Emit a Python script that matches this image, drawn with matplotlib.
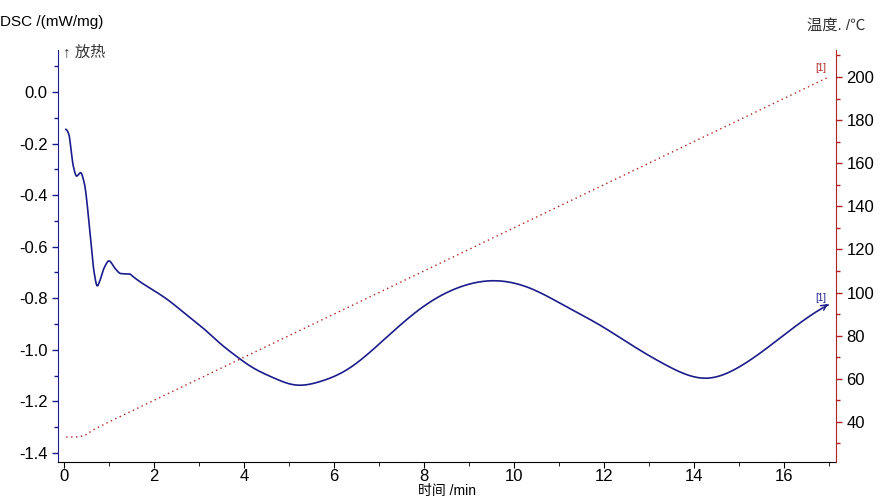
import numpy as np
import matplotlib.pyplot as plt
from matplotlib.ticker import MultipleLocator

plt.rcParams['font.family'] = ['Liberation Sans', 'Noto Sans CJK SC', 'DejaVu Sans']

# DSC signal
t_dsc = [0.04, 0.1, 0.21, 0.28, 0.37, 0.45, 0.58, 0.67, 0.74, 0.8, 0.89, 1.0, 1.13, 1.26,
         1.47, 1.69, 1.98, 2.36, 2.73, 3.1, 3.47, 3.84, 4.13, 4.65, 5.13, 5.69, 6.28,
         7.02, 7.5, 7.98, 8.73, 9.58, 10.36, 11.17, 11.91, 12.65, 13.39, 14.28, 15.02,
         15.76, 16.5, 16.98]
dsc = [-0.145, -0.16, -0.29, -0.326, -0.313, -0.353, -0.547, -0.70, -0.752, -0.73,
       -0.683, -0.655, -0.683, -0.704, -0.706, -0.736, -0.768, -0.813, -0.865, -0.917,
       -0.975, -1.026, -1.062, -1.108, -1.136, -1.123, -1.078, -0.975, -0.90, -0.833,
       -0.761, -0.732, -0.761, -0.833, -0.904, -0.985, -1.06, -1.11, -1.065, -0.975,
       -0.878, -0.826]

# temperature trace
t_temp = [0.05, 0.25, 0.45, 0.65, 1.0, 2.0, 4.0, 6.0, 8.0, 10.0, 12.0, 14.0, 16.0, 17.0]
temp = [33.0, 33.0, 33.5, 36.3, 40.0, 50.0, 70.0, 90.0, 110.0, 130.0, 150.0, 170.0, 190.0, 200.0]

blue = '#1c1c8c'
red = '#b22222'

fig = plt.figure(figsize=(8.94, 4.98), dpi=100)
ax = fig.add_axes([0.0649, 0.0723, 0.8703, 0.8273])
ax2 = ax.twinx()

# pchip for the sharp start, cubic spline for the slow wave after it
t_arr = np.array(t_dsc)
d_arr = np.array(dsc)
split = 14  # index of t=1.47
try:
    from scipy.interpolate import PchipInterpolator, CubicSpline
    t1 = np.linspace(t_arr[0], t_arr[split], 200)
    y1 = PchipInterpolator(t_arr[:split + 1], d_arr[:split + 1])(t1)
    t2 = np.linspace(t_arr[split], t_arr[-1], 600)
    y2 = CubicSpline(t_arr[split:], d_arr[split:])(t2)
    tt = np.concatenate([t1, t2[1:]])
    yy = np.concatenate([y1, y2[1:]])
except Exception:
    tt, yy = t_arr, d_arr
ax.plot(tt, yy, color=blue, lw=1.2, zorder=3)
ax.annotate('', xy=(t_dsc[-1] + 0.05, dsc[-1] + 0.01), xytext=(t_dsc[-1] - 0.1, dsc[-1] - 0.008),
            arrowprops=dict(arrowstyle='->', color=blue, lw=1.0))

ax2.plot(t_temp, temp, color=red, lw=1.0, ls=(0, (1, 2.5)))

ax.set_xlim(-0.133, 17.16)
ax.set_ylim(-1.435, 0.163)
ax2.set_ylim(21.4, 212.5)

ax.xaxis.set_major_locator(MultipleLocator(2))
ax.xaxis.set_minor_locator(MultipleLocator(1))
ax.yaxis.set_major_locator(MultipleLocator(0.2))
ax.yaxis.set_minor_locator(MultipleLocator(0.1))
ax2.yaxis.set_major_locator(MultipleLocator(20))
ax2.yaxis.set_minor_locator(MultipleLocator(10))
ax.yaxis.set_major_formatter(plt.FuncFormatter(lambda v, p: f'{v:.1f}'))

for a in (ax, ax2):
    a.spines['top'].set_visible(False)
ax.spines['right'].set_visible(False)
ax.spines['left'].set_color(blue)
ax.spines['bottom'].set_color('black')
ax2.spines['left'].set_visible(False)
ax2.spines['bottom'].set_visible(False)
ax2.spines['right'].set_color(red)

ax.tick_params(axis='y', which='both', colors=blue, labelcolor='black', labelsize=12,
               direction='out', length=4, width=1)
ax.tick_params(axis='y', which='minor', length=3)
ax.tick_params(axis='x', which='both', direction='out', length=4, labelsize=12, pad=1)
ax.tick_params(axis='x', which='minor', length=3)
ax2.tick_params(axis='y', which='both', colors=red, labelcolor='black', labelsize=12,
                direction='out', length=4, width=1)
ax2.tick_params(axis='y', which='minor', length=3)

fig.text(0.0, 0.955, 'DSC /(mW/mg)', fontsize=11, ha='left', va='center')
fig.text(0.071, 0.895, '↑ 放热', fontsize=11, ha='left', va='center', color='#333333')
fig.text(0.968, 0.948, '温度. /℃', fontsize=11, ha='right', va='center', color='#333333')
fig.text(0.50, 0.0, '时间 /min', fontsize=10, ha='center', va='bottom')

ax2.text(16.95, 202, '[1]', color=red, fontsize=7, ha='right', va='bottom')
ax.text(16.95, -0.82, '[1]', color=blue, fontsize=7, ha='right', va='bottom')

fig.savefig('out.png', dpi=100)
